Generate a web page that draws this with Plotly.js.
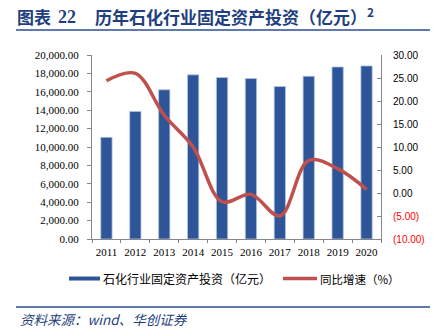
<!DOCTYPE html>
<html>
<head>
<meta charset="utf-8">
<script src="https://cdn.plot.ly/plotly-3.0.1.min.js"></script>
<style>html,body{margin:0;padding:0;background:#fff;}#chart{width:442px;height:332px;}</style>
</head>
<body>
<div id="chart"></div>
<script>
// ---- data ----
const years = ["2011","2012","2013","2014","2015","2016","2017","2018","2019","2020"];
const investment = [11050, 13870, 16220, 17840, 17550, 17440, 16570, 17690, 18700, 18810];
const growth = [24.4, 26.0, 16.9, 10.0, -1.9, -0.3, -5.0, 7.1, 5.3, 0.8];
const leftTicks = [0, 2000, 4000, 6000, 8000, 10000, 12000, 14000, 16000, 18000, 20000];
const rightTicks = [-10, -5, 0, 5, 10, 15, 20, 25, 30];
const titleLabel = "图表";
const titleNumber = "22";
const titleMain = "历年石化行业固定资产投资（亿元）";
const titleSup = "2";
const legendBar = "石化行业固定资产投资（亿元）";
const legendLine = "同比增速（%）";
const sourceText = "资料来源：wind、华创证券";

// ---- layout geometry ----
const W = 442, H = 332;
const mL = 92, mR = 61, mT = 54.5, mB = 92.7;
const pw = W - mL - mR, ph = H - mT - mB;
const px = x => (x - mL) / pw;
const py = y => (H - mB - y) / ph;

function fmtLeft(v){
  return v.toLocaleString('en-US',{minimumFractionDigits:2,maximumFractionDigits:2});
}
function fmtRight(v){
  if (v < 0) return '<span style="fill:#ff0000">(' + Math.abs(v).toFixed(2) + ')</span>';
  return v.toFixed(2);
}

const blue = '#2e5597';
const red = '#c0504d';
const navy = '#1f3f80';
const cjk = 'Noto Sans CJK SC, sans-serif';

const traces = [
  {
    type: 'bar', x: years, y: investment, name: legendBar,
    marker: {color: blue, line: {color: '#b4c4e4', width: 0.8}},
    width: 0.39, showlegend: false, hoverinfo: 'x+y'
  },
  {
    type: 'scatter', mode: 'lines', x: years, y: growth, yaxis: 'y2', name: legendLine,
    line: {color: red, width: 3.5, shape: 'spline', smoothing: 1.0},
    showlegend: false
  }
];

const ann = (x, y, text, font) => ({
  xref: 'paper', yref: 'paper', x: px(x), y: py(y), xanchor: 'left', yanchor: 'middle',
  text: text, showarrow: false, borderpad: 0, font: font
});

const layout = {
  width: W, height: H,
  margin: {l: mL, r: mR, t: mT, b: mB, pad: 0},
  paper_bgcolor: '#fff', plot_bgcolor: '#fff',
  bargap: 0.61,
  xaxis: {
    type: 'category',
    showline: true, linecolor: '#888', linewidth: 1,
    ticks: 'outside', ticklen: 3, tickcolor: '#888', tickson: 'boundaries',
    showgrid: false, zeroline: false, tickangle: 0,
    tickfont: {family: 'Liberation Serif, Times New Roman, serif', size: 11, color: '#000'},
    ticklabelstandoff: 3
  },
  yaxis: {
    range: [0, 20000],
    tickvals: leftTicks, ticktext: leftTicks.map(fmtLeft),
    showline: true, linecolor: '#888', linewidth: 1,
    ticks: 'outside', ticklen: 4, tickcolor: '#888',
    showgrid: false, zeroline: false,
    tickfont: {family: 'Liberation Serif, Times New Roman, serif', size: 11, color: '#000'},
    ticklabelstandoff: 6
  },
  yaxis2: {
    overlaying: 'y', side: 'right',
    range: [-10, 30],
    tickvals: rightTicks, ticktext: rightTicks.map(fmtRight),
    showline: true, linecolor: '#888', linewidth: 1,
    ticks: 'inside', ticklen: 4, tickcolor: '#888',
    showgrid: false, zeroline: false,
    tickfont: {family: 'Liberation Sans, Arial, sans-serif', size: 10, color: '#000'},
    ticklabelstandoff: 9
  },
  showlegend: false,
  shapes: [
    {type: 'line', xref: 'paper', yref: 'paper', x0: px(16), x1: px(430), y0: py(29.5), y1: py(29.5),
     line: {color: '#2a4f8f', width: 1.5}},
    {type: 'line', xref: 'paper', yref: 'paper', x0: px(16), x1: px(430), y0: py(307.5), y1: py(307.5),
     line: {color: '#2a4f8f', width: 1.5}},
    {type: 'line', xref: 'paper', yref: 'paper', x0: px(69), x1: px(100), y0: py(279), y1: py(279),
     line: {color: blue, width: 4}},
    {type: 'line', xref: 'paper', yref: 'paper', x0: px(283), x1: px(317), y0: py(279), y1: py(279),
     line: {color: red, width: 3.5}}
  ],
  annotations: [
    ann(16, 16, '<b>' + titleLabel + '</b>', {family: cjk, size: 17, color: navy}),
    ann(57, 16, '<b>' + titleNumber + '</b>', {family: 'Liberation Serif, serif', size: 18, color: navy}),
    ann(94, 15, '<b>' + titleMain + '<sup>' + titleSup + '</sup></b>', {family: cjk, size: 17, color: navy}),
    ann(102, 279, legendBar, {family: cjk, size: 12, color: '#000'}),
    ann(319, 279, legendLine, {family: cjk, size: 11.5, color: '#000'}),
    ann(19, 320, '<i>' + sourceText + '</i>', {family: cjk, size: 13.5, color: navy})
  ]
};

Plotly.newPlot('chart', traces, layout, {displayModeBar: false, staticPlot: true});
</script>
</body>
</html>
